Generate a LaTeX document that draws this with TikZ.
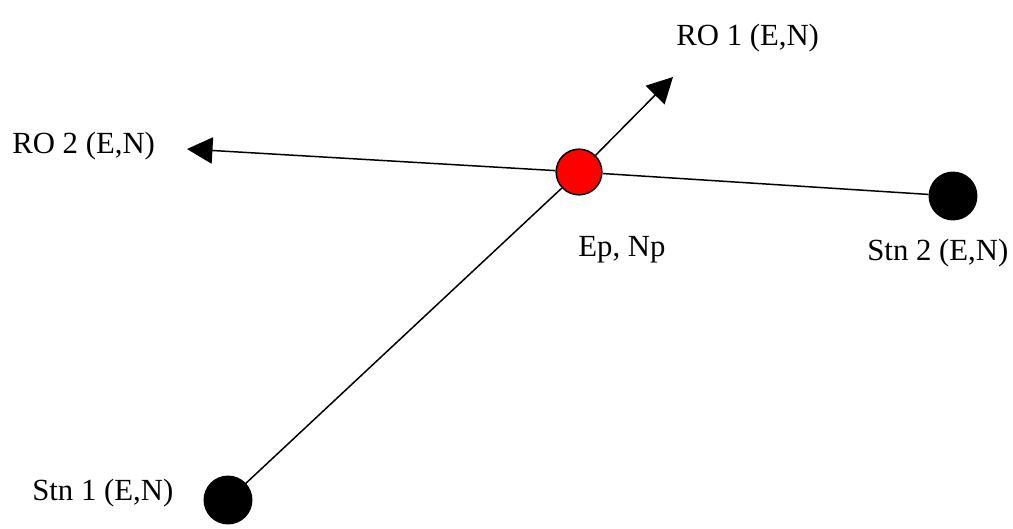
\documentclass[tikz,border=0pt]{standalone}
\usepackage{fontspec}
\setmainfont{Liberation Serif}
\usepackage{tikz}
\usetikzlibrary{positioning,calc,arrows.meta}

\begin{document}
\begin{tikzpicture}[
  x=0.02cm, y=-0.02cm,
  stn/.style={circle, draw, line width=0.85pt, fill=black,
    minimum size=27pt, inner sep=0pt},
  pnt/.style={circle, draw, line width=0.85pt, fill=red,
    minimum size=26pt, inner sep=0pt},
  lbl/.style={font=\fontsize{17.5}{21}\selectfont, anchor=base west,
    inner sep=0pt},
  ln/.style={line width=0.85pt},
  arr/.style={-{Triangle[length=14.5pt,width=15pt]}, line width=0.85pt}
]
\useasboundingbox (0,0) rectangle (1013,528);

% ---- points ----
\node[pnt] (ep) at (579,172) {};
\node[stn] (stnone) at (228,500) {};
\node[stn] (stntwo) at (953,196) {};
\coordinate (roone) at (673,77);
\coordinate (rotwo) at (187,149);

% ---- lines ----
\draw[ln] (stnone) -- (ep);
\draw[arr] (ep) -- (roone);
\draw[ln] (stntwo) -- (ep);
\draw[arr] (ep) -- (rotwo);

% ---- labels ----
\node[lbl] (roonelbl) at (676,45) {RO 1 (E,N)};
\node[lbl] (rotwolbl) at (12,153) {RO 2 (E,N)};
\node[lbl] (eplbl) at (578,256) {Ep, Np};
\node[lbl] (stntwolbl) at (867,260) {Stn 2 (E,N)};
\node[lbl] (stnonelbl) at (32,500) {Stn 1 (E,N)};
\end{tikzpicture}
\end{document}
